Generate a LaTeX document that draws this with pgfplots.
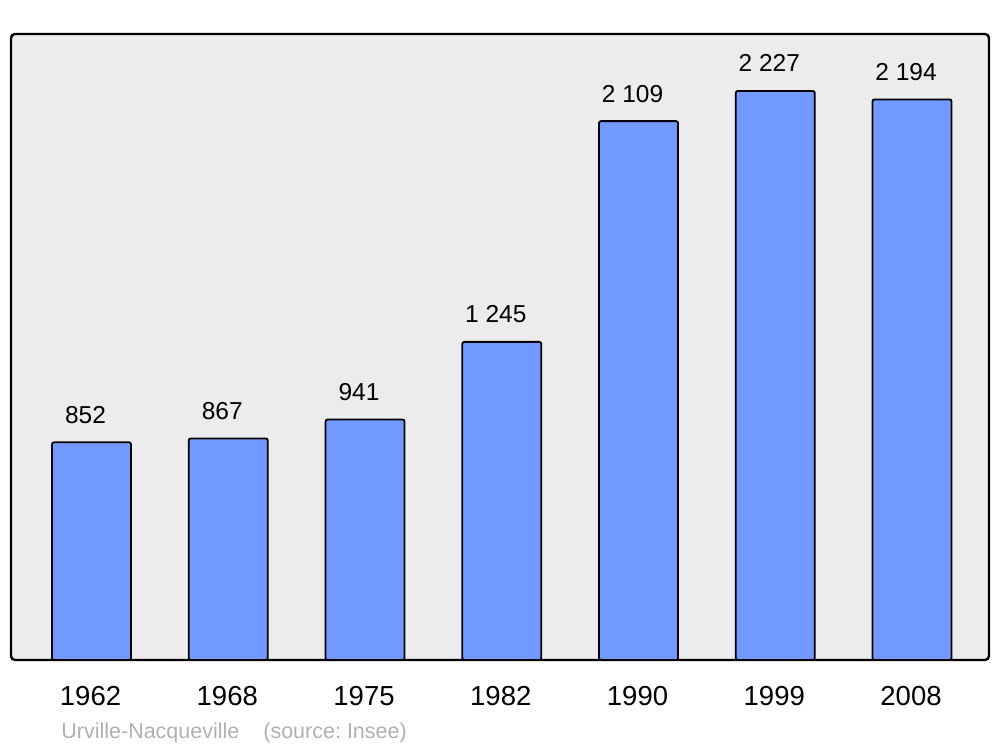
\documentclass[border=0pt]{standalone}
\usepackage{pgfplots}
\pgfplotsset{compat=1.18}
\usepackage{fontspec}
\setmainfont{Liberation Sans}
\frenchspacing
\definecolor{barblue}{HTML}{7299FF}
\definecolor{bggray}{HTML}{ECECEC}
\definecolor{capgray}{HTML}{B0B0B0}
\begin{document}
\begin{tikzpicture}
\useasboundingbox (-5.5bp,-43.5bp) rectangle (494.5bp,330bp);
\begin{axis}[
  scale only axis,
  width=489bp, height=313bp,
  xmin=-0.589, xmax=6.563,
  ymin=0, ymax=2450,
  axis background/.style={fill=bggray},
  axis line style={line width=1.2bp, rounded corners=2bp},
  ytick=\empty,
  xtick=data,
  xticklabels={1962,1968,1975,1982,1990,1999,2008},
  major tick length=0pt,
  xticklabel style={anchor=base, yshift=-22.5bp, xshift=-0.5bp, font=\fontsize{13.75bp}{16bp}\selectfont},
  ybar, bar width=39.5bp,
  clip=false,
]
\addplot[fill=barblue, draw=black, line width=0.9bp, rounded corners=1bp,
  nodes near coords={\pgfkeys{/pgf/fpu=false}\pgfmathprintnumber[1000 sep={\ }, assume math mode=true]{\pgfplotspointmeta}},
  point meta=explicit,
  every node near coord/.style={anchor=base, yshift=9.5bp, xshift=-3bp, font=\fontsize{12.25bp}{14bp}\selectfont, text=black}]
coordinates {
 (0,852) [852]
 (1,867) [867]
 (2,941) [941]
 (3,1245) [1245]
 (4,2109) [2109]
 (5,2227) [2227]
 (6,2194) [2194]
};
\end{axis}
\node[anchor=base west, text=capgray, font=\fontsize{10.75bp}{12bp}\selectfont, inner sep=0pt] at (25bp,-39bp) {Urville-Nacqueville\hspace{12bp}(source: Insee)};
\end{tikzpicture}
\end{document}
